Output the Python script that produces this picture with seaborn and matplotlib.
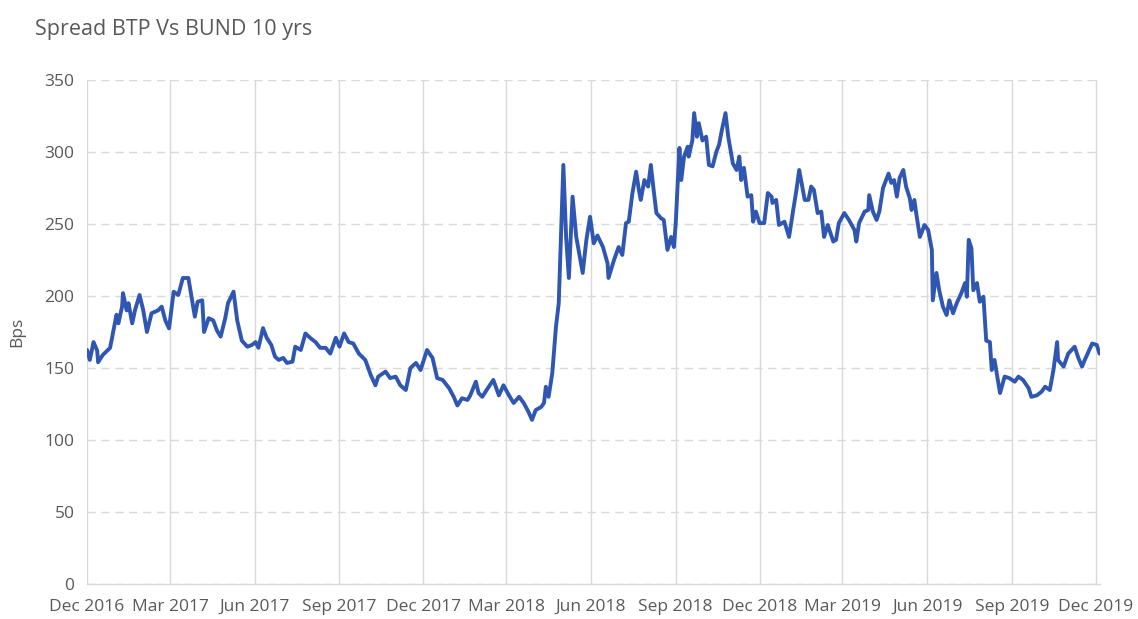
import matplotlib
matplotlib.use("Agg")
import matplotlib.pyplot as plt
import matplotlib.dates as mdates
import pandas as pd
import seaborn as sns

# BTP-Bund 10y spread (bps), sampled at irregular trading days
start_date = "2016-12-01"
days_from_start = [
    0, 3, 7, 11, 12, 17, 25, 28, 32, 34, 38, 39, 43, 45, 49, 52, 57, 61, 65, 70,
    77, 81, 85, 89, 94, 99, 104, 110, 114, 117, 120, 125, 127, 132, 137, 141, 145, 150, 153, 159,
    163, 168, 174, 179, 183, 186, 191, 195, 200, 204, 208, 213, 217, 223, 226, 232, 237, 242, 248, 253,
    259, 264, 270, 274, 279, 284, 289, 295, 302, 308, 313, 316, 324, 329, 335, 340, 346, 351, 357, 362,
    369, 375, 380, 386, 393, 398, 402, 407, 413, 416, 422, 425, 429, 435, 441, 447, 452, 458, 463, 469,
    474, 479, 483, 487, 493, 496, 498, 501, 505, 509, 512, 517, 520, 523, 527, 531, 538, 542, 546, 550,
    554, 560, 565, 566, 572, 577, 581, 585, 588, 592, 596, 599, 601, 605, 609, 612, 615, 618, 623, 626,
    630, 634, 637, 639, 643, 645, 648, 652, 653, 657, 659, 662, 664, 668, 672, 675, 679, 683, 686, 689,
    693, 696, 701, 705, 708, 710, 713, 717, 721, 723, 726, 730, 735, 739, 743, 744, 748, 751, 757, 762,
    766, 770, 773, 779, 783, 786, 789, 793, 797, 800, 804, 810, 813, 816, 822, 827, 833, 835, 838, 844,
    848, 849, 853, 857, 860, 864, 870, 873, 876, 879, 882, 886, 889, 893, 895, 898, 900, 904, 909, 913,
    917, 918, 922, 925, 929, 933, 936, 940, 944, 949, 953, 955, 957, 960, 962, 966, 969, 973, 976, 980,
    982, 985, 991, 996, 1001, 1007, 1011, 1016, 1022, 1025, 1031, 1036, 1040, 1045, 1049, 1053, 1054, 1060, 1065, 1072,
    1076, 1080, 1083, 1091, 1096, 1099,
]
spread_bps = [
    162.5, 155.6, 168, 162, 154, 159, 164, 174, 187, 181, 192.6, 202, 190, 195, 181, 190, 200.7, 190, 175, 188,
    190, 192.6, 183, 177.5, 203, 200.7, 212.5, 212.5, 197, 185.6, 196, 197, 175, 184.6, 183, 176, 171.8, 184.6, 195, 203,
    183, 169, 164.8, 166, 168, 164, 177.7, 171, 166, 157.9, 155.6, 157, 153.5, 154.4, 164.8, 162.5, 174, 171, 168, 164,
    164, 160, 171, 164.8, 174, 168, 167, 160, 155.6, 145, 138, 144, 147.5, 143, 144, 138, 134.7, 150, 153.5, 148.6,
    162.5, 157, 143, 141.7, 136, 130, 124, 129, 127.8, 131, 140.5, 132.6, 130, 136, 141.7, 131, 138, 131, 125.7, 130,
    125.7, 119.7, 114, 120.8, 123, 125.7, 137, 130, 146.5, 178.7, 195, 291, 241, 212.5, 269, 241, 216, 239, 255, 236.6,
    242, 234, 222.6, 212.5, 225, 234, 228.5, 250.6, 251.6, 271.5, 286.3, 273.6, 266.7, 280.5, 276, 291, 273.6, 257.6, 254, 252.8,
    232, 241, 234, 250.6, 302.8, 280.5, 296.8, 303.7, 296.8, 308, 327, 310.6, 320, 308, 310.6, 291, 290, 300, 305, 315,
    327, 310.6, 292, 287.5, 296.8, 280.5, 289, 269, 270, 251.6, 258.6, 250.6, 250.6, 271.5, 269, 264.6, 266.7, 249.3, 251.6, 241,
    257.6, 273.6, 287.5, 266.7, 266.7, 276, 273.6, 257.6, 258.6, 241, 249.3, 237.8, 239, 250.6, 257.6, 252.8, 245.8, 237.8, 250.6, 258.6,
    259.7, 270, 258.6, 252.8, 258.6, 275, 285, 278.5, 280.5, 269, 282, 287.5, 276, 268, 259.7, 266.7, 257.6, 241, 249.3, 245.8,
    232, 197, 216, 204, 192.6, 186.8, 197, 188, 195, 202, 209, 199.5, 239, 233, 204, 209, 196, 199.5, 169, 168,
    148.6, 155.6, 132.6, 144, 143, 140.5, 144, 141.7, 136, 130, 131, 133.5, 137, 134.7, 148.6, 168, 155.6, 151, 160, 164.8,
    157, 151, 155.6, 167, 166, 160,
]
y_ticks = [0, 50, 100, 150, 200, 250, 300, 350]
tick_dates = pd.date_range("2016-12-01", "2019-12-01", freq="3MS")

df = pd.DataFrame({
    "date": pd.Timestamp(start_date) + pd.to_timedelta(days_from_start, unit="D"),
    "spread": spread_bps,
})

sns.set_theme(style="white")
plt.rcParams["font.family"] = ["Open Sans", "DejaVu Sans"]

text_grey = "#595959"
grid_grey = "#d9d9d9"

fig = plt.figure(figsize=(11.38, 6.19), dpi=100)
ax = fig.add_axes([0.0765, 0.0565, 0.8905, 0.8143])

sns.lineplot(data=df, x="date", y="spread", ax=ax, color="#2f56b0", linewidth=2.8)

ax.set_ylim(0, 350)
ax.set_yticks(y_ticks)
ax.set_xlim(pd.Timestamp("2016-12-01"), pd.Timestamp("2019-12-06"))
ax.set_xticks(tick_dates)
ax.xaxis.set_major_formatter(mdates.DateFormatter("%b %Y"))

ax.grid(axis="y", color=grid_grey, linestyle=(0, (6, 4)), linewidth=1)
ax.grid(axis="x", color=grid_grey, linestyle="-", linewidth=1)
ax.set_axisbelow(True)

for side in ["top", "right", "left"]:
    ax.spines[side].set_visible(False)
ax.spines["bottom"].set_color(grid_grey)
ax.spines["bottom"].set_linewidth(1)

ax.tick_params(axis="both", length=0, labelsize=12.5, labelcolor=text_grey)
ax.tick_params(axis="x", pad=11)
ax.tick_params(axis="y", pad=9)

ax.set_xlabel("")
ax.set_ylabel("Bps", fontsize=12.5, color=text_grey, labelpad=14)

fig.text(0.031, 0.952, "Spread BTP Vs BUND 10 yrs", fontsize=15.5, color=text_grey,
         ha="left", va="center")

fig.savefig("out.png", dpi=100)
